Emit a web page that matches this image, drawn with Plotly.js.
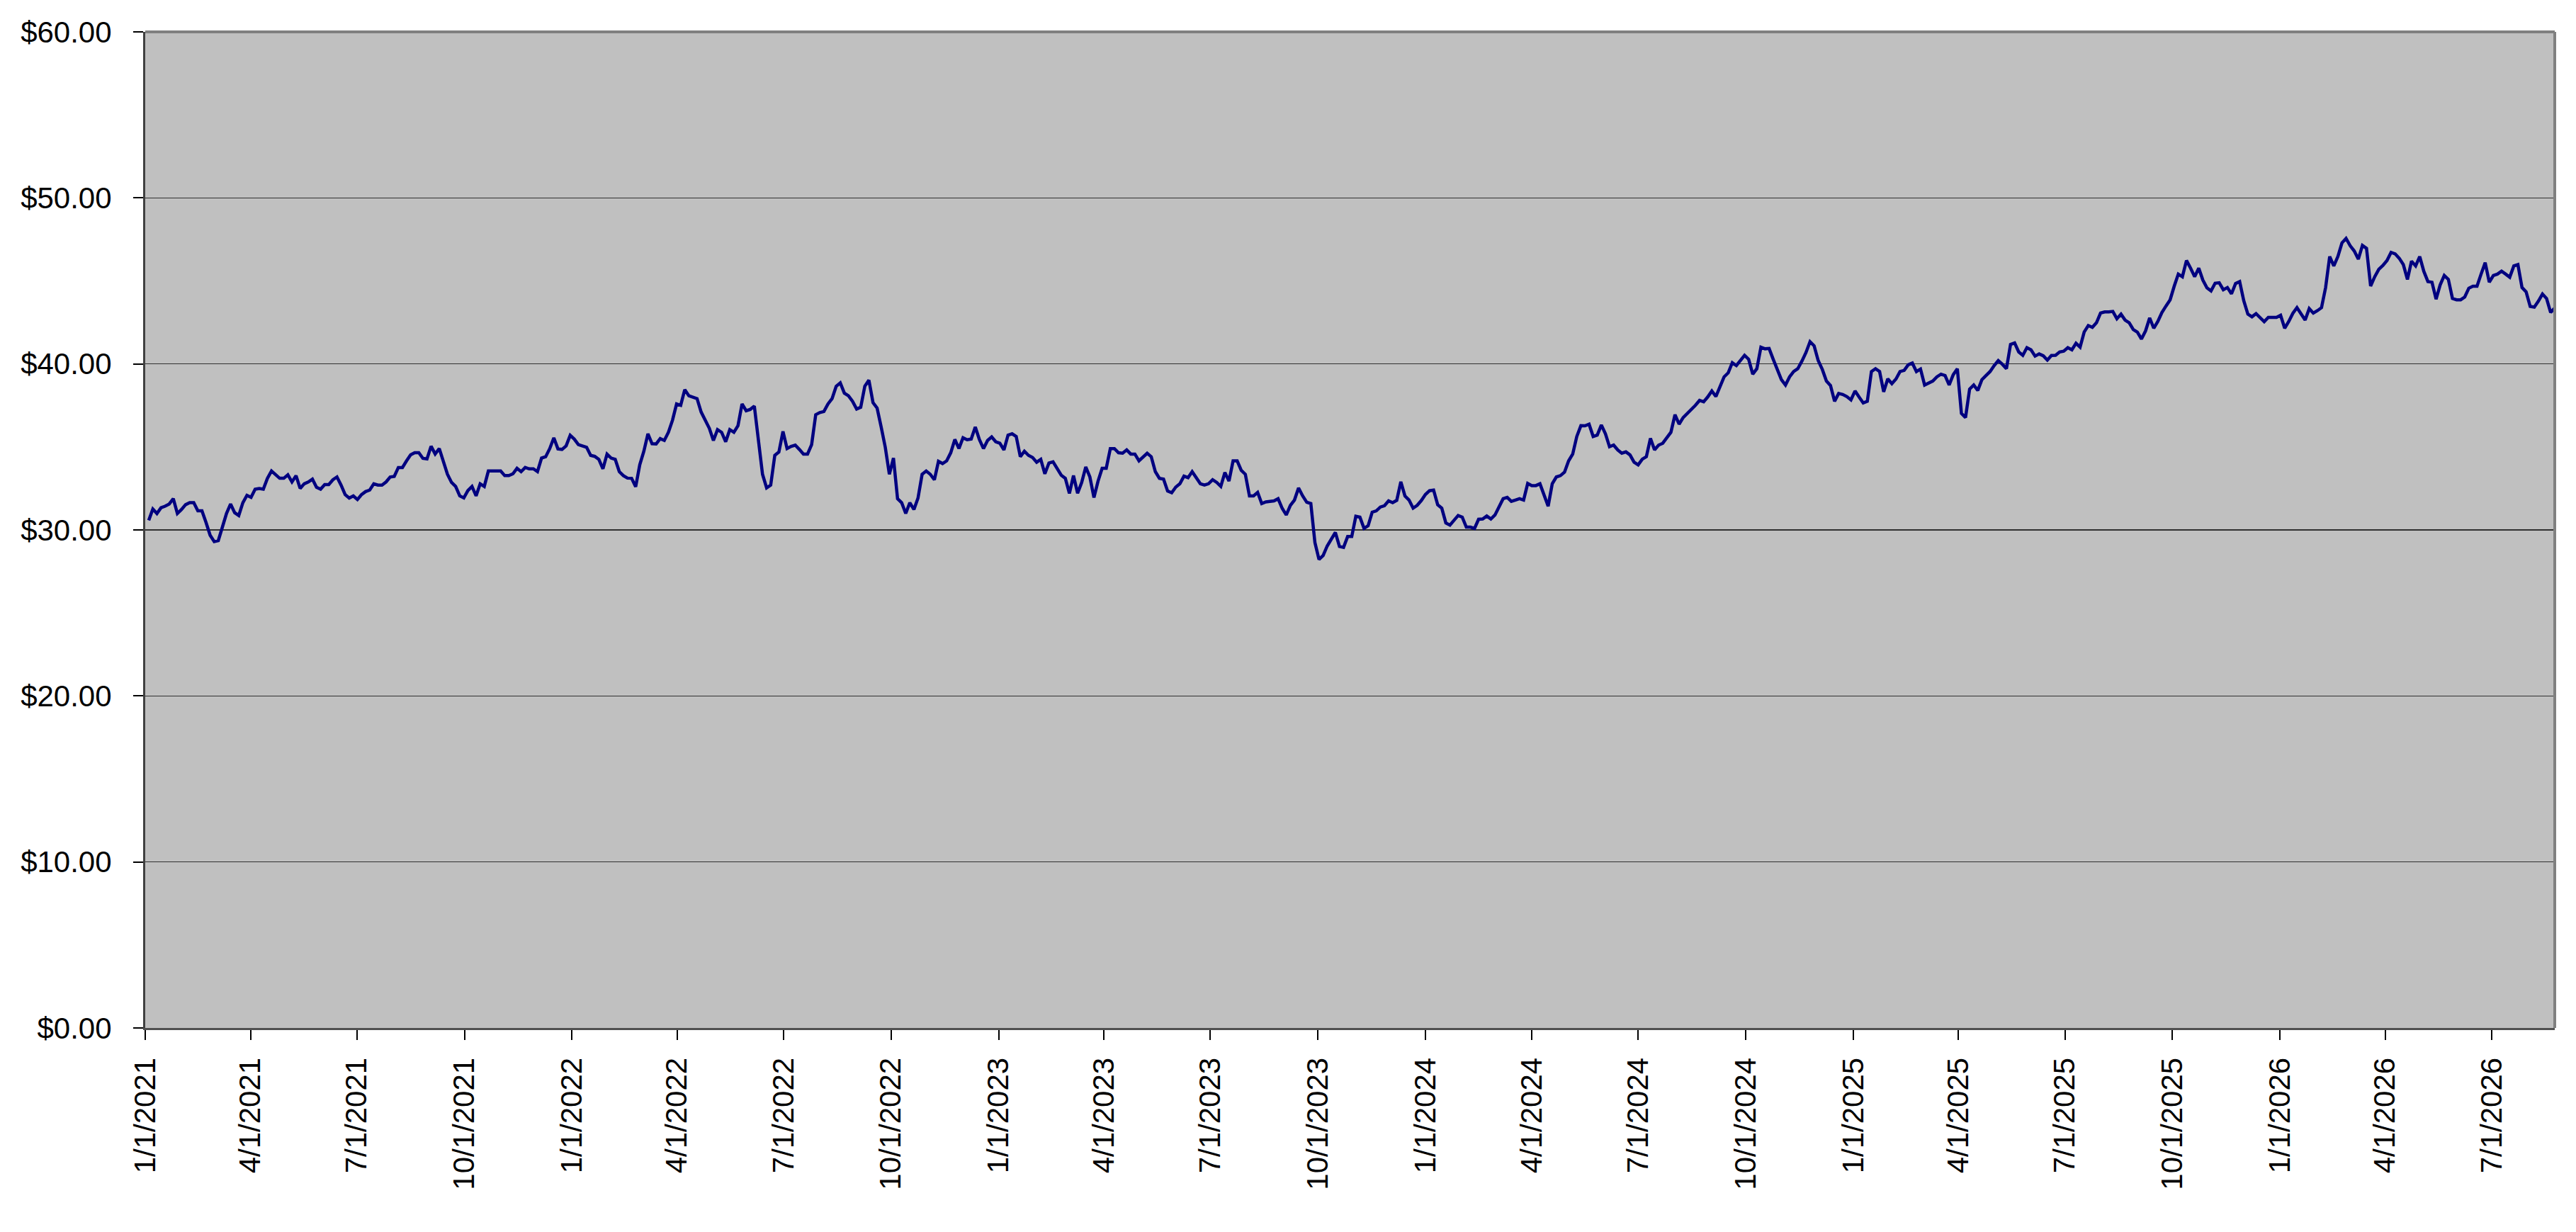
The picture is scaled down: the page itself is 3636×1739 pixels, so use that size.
<!DOCTYPE html>
<html><head><meta charset="utf-8">
<script src="https://cdn.plot.ly/plotly-3.0.1.min.js"></script>
<style>html,body{margin:0;padding:0;background:#fff;} #chart{width:3636px;height:1739px;}</style>
</head><body><div id="chart"></div>
<script>
// Prices: one at the start of each week,
// one in the middle of each week (twice-weekly series).
const firstDate = '2021-01-04';
const stepDays = 3.5;
const weekStartPrices = [
 30.58,30.99,31.43,31.88,31.23,31.64,31.15,30.45,29.30,30.17,
 31.56,30.87,32.08,32.45,32.45,33.55,33.11,33.32,33.27,32.78,
 33.06,32.45,32.73,33.19,32.13,32.05,32.13,32.40,32.70,32.89,
 33.22,33.76,34.52,34.65,34.28,34.57,34.16,32.86,32.05,32.37,
 32.05,32.62,33.55,33.55,33.27,33.71,33.76,33.68,34.33,34.90,
 34.88,35.06,35.47,35.06,34.49,34.25,34.57,34.25,33.27,33.11,
 33.92,35.79,35.18,35.39,36.61,37.51,38.08,37.91,36.61,35.39,
 35.88,36.04,36.28,37.18,37.46,33.35,32.70,34.69,34.90,35.11,
 34.57,35.14,37.07,37.59,38.65,38.24,37.75,37.39,39.02,37.34,
 34.98,34.33,31.64,31.64,31.92,33.55,33.02,34.00,34.65,34.90,
 35.43,36.20,34.90,35.60,35.22,35.71,35.63,34.74,34.36,34.25,
 34.03,33.68,33.11,33.27,32.86,33.19,32.94,33.71,34.90,34.62,
 34.57,34.16,34.62,33.51,33.06,32.24,32.78,33.15,33.10,32.70,
 33.02,32.62,32.94,34.16,33.35,32.05,31.59,31.72,31.88,30.90,
 31.80,32.05,31.59,28.22,29.03,29.85,28.95,29.60,30.77,30.25,
 31.15,31.46,31.64,32.90,31.80,31.48,32.13,32.40,31.31,30.29,
 30.87,30.17,30.09,30.66,30.66,31.43,31.96,31.80,31.80,32.67,
 32.78,31.43,33.19,33.48,34.57,36.28,36.37,35.71,35.79,35.11,
 34.62,34.52,33.92,34.41,34.82,35.22,35.88,36.37,37.02,37.51,
 37.72,38.37,38.60,39.46,39.90,40.52,39.38,41.01,40.93,39.63,
 38.73,39.54,40.16,41.34,40.20,38.97,37.75,38.16,37.83,38.00,
 37.75,39.71,38.32,38.81,39.54,39.95,39.54,38.73,38.97,39.38,
 38.73,39.71,36.77,38.73,39.05,39.54,40.20,39.71,41.26,40.52,
 40.85,40.60,40.23,40.52,40.77,40.85,41.01,42.31,42.48,43.13,
 43.16,43.00,42.48,41.91,41.99,42.15,43.10,43.86,45.41,46.23,
 45.25,45.05,44.40,44.89,44.60,44.84,43.81,42.84,42.77,42.80,
 42.80,42.15,43.05,42.97,43.33,43.21,44.60,45.90,47.29,47.12,
 46.31,46.96,45.25,45.93,46.72,46.36,45.09,45.90,45.58,44.92,
 44.76,45.09,43.86,44.03,44.68,45.41,44.92,45.41,45.41,45.90,
 44.60,43.46,43.78,43.94,43.37
];
const midWeekPrices = [
 31.26,31.34,31.56,30.99,31.52,31.64,31.15,29.68,29.36,30.99,
 31.04,31.64,31.96,32.49,33.11,33.35,33.11,32.89,32.50,32.89,
 32.57,32.73,33.02,32.70,31.92,31.83,32.31,32.78,32.70,33.19,
 33.76,34.16,34.65,34.31,35.04,34.90,33.35,32.62,31.93,32.62,
 32.78,33.55,33.56,33.27,33.38,33.51,33.68,33.51,34.41,35.55,
 34.85,35.70,35.14,34.98,34.43,33.68,34.33,33.51,33.12,32.60,
 34.74,35.19,35.50,35.88,37.59,38.45,38.00,37.10,36.12,36.04,
 35.31,35.88,37.59,37.26,35.47,32.53,34.49,35.93,35.03,34.85,
 34.57,36.94,37.13,37.91,38.86,38.08,37.28,38.66,37.67,36.20,
 33.35,31.88,30.99,31.23,33.35,33.35,34.13,34.16,35.45,35.55,
 35.47,35.44,35.39,35.31,34.82,35.79,34.41,34.49,34.08,33.38,
 34.10,33.30,32.20,32.21,33.79,31.95,33.71,34.90,34.65,34.82,
 34.57,34.41,34.41,33.11,32.34,32.58,33.24,33.51,32.78,32.78,
 32.86,33.46,34.16,33.59,32.05,32.26,31.69,31.75,31.30,31.48,
 32.53,31.67,29.24,28.46,29.40,29.00,29.60,30.82,30.09,31.07,
 31.38,31.75,31.78,32.05,31.31,31.77,32.36,31.52,30.42,30.58,
 30.77,30.17,30.64,30.84,30.90,31.88,31.72,31.88,32.80,32.67,
 32.05,32.78,33.27,34.16,35.63,36.27,35.63,36.32,35.01,34.82,
 34.70,34.08,34.26,35.52,35.11,35.55,36.94,36.77,37.21,37.80,
 38.01,38.04,39.22,40.07,40.20,40.28,39.71,40.91,40.28,39.05,
 39.22,39.71,40.68,41.09,39.67,38.70,38.22,38.03,38.37,37.65,
 39.54,39.54,39.10,39.09,39.61,40.05,39.69,38.83,39.22,39.30,
 39.35,37.02,38.48,38.40,39.30,39.90,39.98,41.17,40.72,40.98,
 40.47,40.49,40.51,40.72,40.98,41.24,41.92,42.20,43.06,43.13,
 42.72,42.64,42.07,41.50,42.77,42.56,43.49,44.68,45.25,45.77,
 45.77,44.58,44.86,44.47,44.22,44.96,43.00,43.03,42.54,42.80,
 42.93,42.56,43.39,42.64,43.06,43.39,46.47,46.47,47.56,46.80,
 47.14,44.69,45.70,46.23,46.63,45.98,46.19,46.47,44.96,43.90,
 45.33,43.94,43.86,44.56,44.68,46.10,45.33,45.59,45.22,45.98,
 44.34,43.42,44.21,43.10
];
const tickDates = ['2021-01-01','2021-04-01','2021-07-01','2021-10-01',
 '2022-01-01','2022-04-01','2022-07-01','2022-10-01',
 '2023-01-01','2023-04-01','2023-07-01','2023-10-01',
 '2024-01-01','2024-04-01','2024-07-01','2024-10-01',
 '2025-01-01','2025-04-01','2025-07-01','2025-10-01',
 '2026-01-01','2026-04-01','2026-07-01'];
const tickLabels = ['1/1/2021','4/1/2021','7/1/2021','10/1/2021',
 '1/1/2022','4/1/2022','7/1/2022','10/1/2022',
 '1/1/2023','4/1/2023','7/1/2023','10/1/2023',
 '1/1/2024','4/1/2024','7/1/2024','10/1/2024',
 '1/1/2025','4/1/2025','7/1/2025','10/1/2025',
 '1/1/2026','4/1/2026','7/1/2026'];
const axisStart = '2021-01-01';
const axisEnd = '2026-08-24';
const yTickVals = [0,10,20,30,40,50,60];

// interleave week-start and mid-week readings into one series
const prices = [];
weekStartPrices.forEach((v, i) => {
  prices.push(v);
  if (i < midWeekPrices.length) prices.push(midWeekPrices[i]);
});
const t0 = Date.parse(firstDate + 'T00:00:00Z');
const dates = prices.map((_, i) =>
  new Date(t0 + i * stepDays * 86400000).toISOString().slice(0, 19).replace('T', ' '));

const font = {family: '"Liberation Sans", Arial, sans-serif', size: 42, color: '#000'};

const trace = {
  x: dates, y: prices, type: 'scatter', mode: 'lines',
  line: {color: '#000080', width: 4.5},
  hoverinfo: 'skip'
};

const layout = {
  width: 3636, height: 1739,
  margin: {l: 205, r: 30, t: 45, b: 288, pad: 0},
  paper_bgcolor: '#ffffff',
  plot_bgcolor: '#c0c0c0',
  showlegend: false,
  font: font,
  xaxis: {
    type: 'date',
    range: [axisStart, axisEnd],
    tickmode: 'array', tickvals: tickDates, ticktext: tickLabels,
    tickangle: -90,
    ticks: 'outside', ticklen: 14, tickwidth: 2, tickcolor: '#000',
    showgrid: false, zeroline: false,
    showline: true, linecolor: '#505050', linewidth: 3,
    tickfont: font,
    ticklabelstandoff: 8
  },
  yaxis: {
    range: [0, 60],
    tickmode: 'array', tickvals: yTickVals,
    tickformat: '$.2f',
    ticks: 'outside', ticklen: 14, tickwidth: 2, tickcolor: '#000',
    showgrid: true, gridcolor: '#303030', gridwidth: 1.5,
    zeroline: false,
    showline: true, linecolor: '#404040', linewidth: 3,
    tickfont: font,
    ticklabelstandoff: 22
  },
  shapes: [
    {type: 'line', xref: 'paper', yref: 'paper', x0: 0, x1: 1, y0: 1, y1: 1,
     line: {color: '#808080', width: 4}},
    {type: 'line', xref: 'paper', yref: 'paper', x0: 1, x1: 1, y0: 0, y1: 1,
     line: {color: '#808080', width: 4}}
  ]
};

Plotly.newPlot('chart', [trace], layout, {displayModeBar: false, staticPlot: true});
</script>
</body></html>
